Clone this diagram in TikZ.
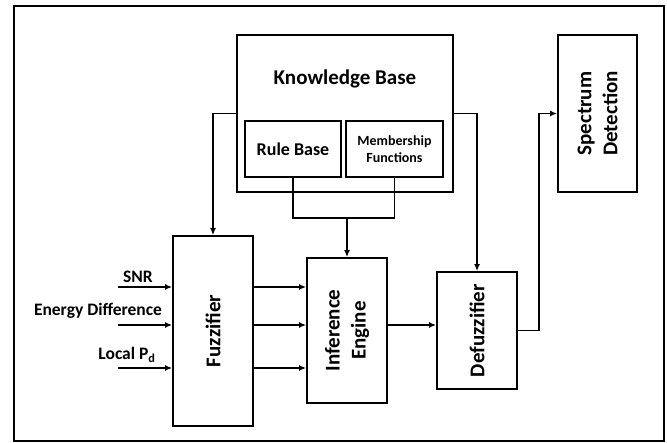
\documentclass[tikz,border=0pt]{standalone}
\usepackage{fontspec}
\setmainfont{Carlito}
\usetikzlibrary{arrows.meta}
\begin{document}
\begin{tikzpicture}[x=1pt, y=-1pt,
		box/.style={draw, line width=1.8pt, inner sep=0pt},
		bigtext/.style={font=\bfseries\fontsize{21}{26}\selectfont, align=center},
		vtext/.style={bigtext, rotate=90},
		intext/.style={font=\bfseries\fontsize{17.5}{19}\selectfont, inner sep=0pt},
		flow/.style={line width=1.5pt, -{Latex[length=7pt, width=6pt]}},
		wire/.style={line width=1.5pt}]
		\useasboundingbox (0,0) rectangle (667,443);
		\draw[line width=2.8pt] (14,6) rectangle (664,441);
		\node[box, minimum width=216pt, minimum height=157pt] (kb) at (345,113.5) {};
		\node[bigtext] (kbt) at (345,79) {Knowledge Base};
		\node[box, minimum width=96pt, minimum height=56pt, font=\bfseries\fontsize{18}{20}\selectfont] (rule) at (293,149) {Rule Base};
		\node[box, minimum width=97pt, minimum height=56pt, align=center, font=\bfseries\fontsize{14}{17}\selectfont] (mem) at (394.5,149) {Membership\\Functions};
		\node[box, minimum width=79pt, minimum height=157pt, label={[vtext]center:Spectrum\\Detection}] (spec) at (597.5,113.5) {};
		\node[box, minimum width=80pt, minimum height=190pt, label={[vtext]center:Fuzzifier}] (fuz) at (213,331) {};
		\node[box, minimum width=80pt, minimum height=145pt, label={[vtext]center:Inference\\Engine}] (inf) at (347,330.5) {};
		\node[box, minimum width=80pt, minimum height=117pt, label={[vtext]center:Defuzzifier}] (def) at (477,330.5) {};
		\coordinate (in1) at (118,287);
		\coordinate (in2) at (118,325);
		\coordinate (in3) at (118,368);
		\coordinate (join) at (347,218);
		\node[intext] (snr) at (138,277) {SNR};
		\node[intext] (ed) at (98,311) {Energy Difference};
		\node[intext] (pd) at (127,355) {Local P$_{\mathbf{d}}$};
		\draw[flow] (in1) -- (in1 -| fuz.west);
		\draw[flow] (in2) -- (in2 -| fuz.west);
		\draw[flow] (in3) -- (in3 -| fuz.west);
		\draw[flow] (fuz.east |- in1) -- (inf.west |- in1);
		\draw[flow] (fuz.east |- in2) -- (inf.west |- in2);
		\draw[flow] (fuz.east |- in3) -- (inf.west |- in3);
		\draw[flow] (inf.east |- in2) -- (def.west |- in2);
		\draw[wire] (rule.south) |- (join) -| (mem.south);
		\draw[flow] (join) -- (inf.north);
		\draw[flow] (kb.west) -| (fuz.north);
		\draw[flow] (kb.east) -| (def.north);
		\draw[flow] (def.east) -- ++(21,0) |- (spec.west);
	\end{tikzpicture}
\end{document}
